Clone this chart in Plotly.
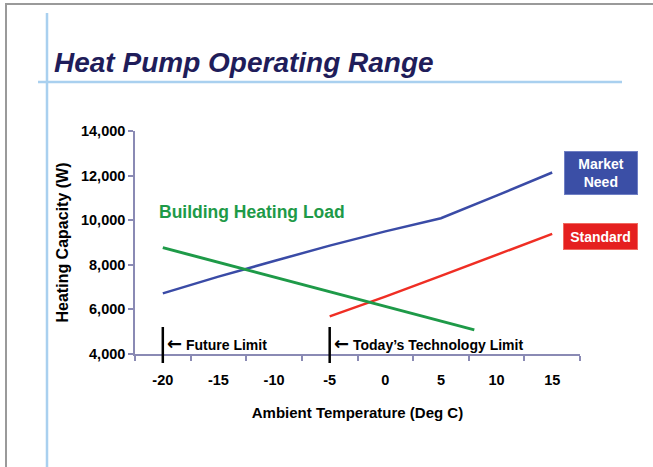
import plotly.graph_objects as go

# ---- data ----
temps_market = [-20, -15, -10, -5, 0, 5, 10, 15]
market_need = [6720, 7470, 8170, 8860, 9500, 10090, 11100, 12140]

temps_standard = [-5, 0, 5, 10, 15]
standard = [5690, 6570, 7500, 8440, 9390]

temps_load = [-20, 8]
building_load = [8770, 5080]

x_tick_vals = [-20, -15, -10, -5, 0, 5, 10, 15]
x_tick_text = ["-20", "-15", "-10", "-5", "0", "5", "10", "15"]
x_minor_ticks = [-22.5, -17.5, -12.5, -7.5, -2.5, 2.5, 7.5, 12.5, 17.5]
y_tick_vals = [4000, 6000, 8000, 10000, 12000, 14000]

limit_names = ["Future Limit", "Today\u2019s Technology Limit"]
limit_temps = [-20, -5]

X_RANGE = [-22.5, 17.5]
Y_RANGE = [4000, 14000]

# ---- layout geometry (pixels) ----
W, H = 653, 467
L, R, T, B = 135, 580, 131, 354
pw, ph = R - L, B - T


def px(xp):
    return (xp - L) / pw


def py(yp):
    return (B - yp) / ph


FONT = "Liberation Sans, Arial, sans-serif"
BLUE = "#3a4ba6"
RED = "#ef2e24"
GREEN = "#1e9a48"
AXIS = "#8a8ab4"

fig = go.Figure()
fig.add_trace(go.Scatter(x=temps_market, y=market_need, mode="lines",
                         line=dict(color=BLUE, width=2.5), name="Market Need"))
fig.add_trace(go.Scatter(x=temps_standard, y=standard, mode="lines",
                         line=dict(color=RED, width=2.5), name="Standard"))
fig.add_trace(go.Scatter(x=temps_load, y=building_load, mode="lines",
                         line=dict(color=GREEN, width=3), name="Building Heating Load"))

shapes = []
# decorative frame and guide lines
shapes.append(dict(type="line", xref="paper", yref="paper", x0=px(6), x1=px(6), y0=py(3), y1=py(470),
                   line=dict(color="#9a9a9a", width=2)))
shapes.append(dict(type="line", xref="paper", yref="paper", x0=px(5), x1=px(660), y0=py(4), y1=py(4),
                   line=dict(color="#9a9a9a", width=2)))
shapes.append(dict(type="line", xref="paper", yref="paper", x0=px(47), x1=px(47), y0=py(13), y1=py(470),
                   line=dict(color="#a9d0ef", width=2.5)))
shapes.append(dict(type="line", xref="paper", yref="paper", x0=px(38), x1=px(622), y0=py(82), y1=py(82),
                   line=dict(color="#a9d0ef", width=2.5)))
# limit bars
for t in limit_temps:
    shapes.append(dict(type="line", xref="x", yref="paper", x0=t, x1=t, y0=py(363), y1=py(327),
                       line=dict(color="#000000", width=2.5)))

ARROW = '<span style="font-family:DejaVu Sans;font-size:18px">\u2190</span> '
annotations = []
for name, t in zip(limit_names, limit_temps):
    annotations.append(dict(x=t, xref="x", y=py(343), yref="paper", xanchor="left", yanchor="middle",
                            xshift=2, showarrow=False, text=ARROW + name,
                            font=dict(family=FONT, size=14, color="#000000", weight="bold")))

annotations.append(dict(x=px(157), xref="paper", y=py(211.5), yref="paper", xanchor="left",
                        yanchor="middle", showarrow=False, text="Building Heating Load",
                        font=dict(family=FONT, size=17.5, color=GREEN, weight="bold")))

annotations.append(dict(x=px(600.5), xref="paper", y=py(173.3), yref="paper", xanchor="center",
                        yanchor="middle", showarrow=False, text="Market<br>Need",
                        bgcolor="#3b4fa6", bordercolor="#6f7fc4", borderwidth=1,
                        width=70, height=40, borderpad=1,
                        font=dict(family=FONT, size=14, color="#ffffff", weight="bold")))
annotations.append(dict(x=px(600.5), xref="paper", y=py(236.3), yref="paper", xanchor="center",
                        yanchor="middle", showarrow=False, text="Standard",
                        bgcolor="#e5201f", bordercolor="#f06a60", borderwidth=1,
                        width=71, height=23, borderpad=1,
                        font=dict(family=FONT, size=14, color="#ffffff", weight="bold")))

fig.update_layout(
    width=W, height=H,
    margin=dict(l=L, r=W - R, t=T, b=H - B, autoexpand=False),
    paper_bgcolor="#ffffff", plot_bgcolor="#ffffff",
    showlegend=False,
    title=dict(text="Heat Pump Operating Range", x=54 / W, xanchor="left",
               y=1 - 62 / H, yanchor="middle", xref="container", yref="container",
               font=dict(family=FONT, size=28, color="#1f1d5a", weight="bold", style="italic")),
    shapes=shapes,
    annotations=annotations,
    xaxis=dict(range=X_RANGE, tickmode="array", tickvals=x_tick_vals, ticktext=x_tick_text,
               ticks="", showgrid=False, zeroline=False, showline=True, linecolor=AXIS, linewidth=1.5,
               minor=dict(tickmode="array", tickvals=x_minor_ticks, ticks="outside", ticklen=5,
                          tickwidth=1.5, tickcolor=AXIS, showgrid=False),
               tickfont=dict(family=FONT, size=14.5, color="#000000", weight="bold"),
               ticklabelstandoff=12,
               title=dict(text="Ambient Temperature (Deg C)", standoff=20,
                          font=dict(family=FONT, size=15, color="#000000", weight="bold"))),
    yaxis=dict(range=Y_RANGE, tickmode="array", tickvals=y_tick_vals, tickformat=",d",
               ticks="outside", ticklen=5, tickwidth=1.5, tickcolor=AXIS,
               showgrid=False, zeroline=False, showline=True, linecolor=AXIS, linewidth=1.5,
               tickfont=dict(family=FONT, size=14.5, color="#000000", weight="bold"),
               title=dict(text="Heating Capacity (W)", standoff=8,
                          font=dict(family=FONT, size=16, color="#000000", weight="bold"))),
)

fig.write_html("out.html", config={"displayModeBar": False},
               post_script="document.body.style.margin='0';")
